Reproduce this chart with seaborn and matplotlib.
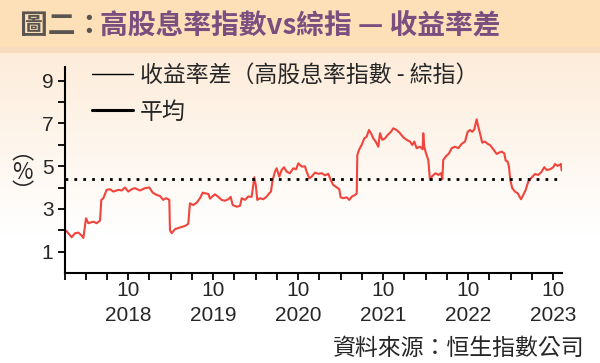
import numpy as np
import pandas as pd
import seaborn as sns
import matplotlib.pyplot as plt
from matplotlib.lines import Line2D

# decimal year
years = [
    2018.018, 2018.045, 2018.084, 2018.124, 2018.163, 2018.202, 2018.222, 2018.253, 2018.280, 2018.339,
    2018.379, 2018.418, 2018.433, 2018.457, 2018.496, 2018.535, 2018.574, 2018.633, 2018.673, 2018.712,
    2018.751, 2018.791, 2018.829, 2018.888, 2018.947, 2018.998, 2019.038, 2019.085, 2019.124, 2019.162,
    2019.194, 2019.221, 2019.233, 2019.241, 2019.261, 2019.300, 2019.359, 2019.418, 2019.456, 2019.476,
    2019.515, 2019.555, 2019.594, 2019.626, 2019.653, 2019.692, 2019.712, 2019.744, 2019.771, 2019.810,
    2019.849, 2019.888, 2019.927, 2019.955, 2019.979, 2020.026, 2020.065, 2020.085, 2020.124, 2020.162,
    2020.202, 2020.233, 2020.251, 2020.268, 2020.300, 2020.339, 2020.379, 2020.409, 2020.429, 2020.449,
    2020.476, 2020.496, 2020.527, 2020.555, 2020.582, 2020.614, 2020.653, 2020.692, 2020.724, 2020.751,
    2020.791, 2020.829, 2020.849, 2020.880, 2020.908, 2020.947, 2020.986, 2021.026, 2021.065, 2021.104,
    2021.132, 2021.162, 2021.202, 2021.233, 2021.249, 2021.280, 2021.320, 2021.351, 2021.379, 2021.418,
    2021.438, 2021.445, 2021.465, 2021.496, 2021.527, 2021.555, 2021.582, 2021.606, 2021.633, 2021.661,
    2021.692, 2021.712, 2021.739, 2021.771, 2021.802, 2021.841, 2021.868, 2021.908, 2021.947, 2021.986,
    2022.026, 2022.065, 2022.092, 2022.115, 2022.143, 2022.182, 2022.214, 2022.221, 2022.233, 2022.253,
    2022.280, 2022.300, 2022.327, 2022.367, 2022.398, 2022.429, 2022.445, 2022.456, 2022.484, 2022.524,
    2022.555, 2022.594, 2022.633, 2022.673, 2022.712, 2022.744, 2022.771, 2022.798, 2022.821, 2022.849,
    2022.868, 2022.888, 2022.915, 2022.947, 2022.979, 2023.006, 2023.045, 2023.085, 2023.112, 2023.143,
    2023.174, 2023.191, 2023.214, 2023.229, 2023.245, 2023.268, 2023.300, 2023.332, 2023.371, 2023.398,
    2023.426, 2023.456, 2023.488, 2023.535, 2023.574, 2023.606, 2023.645, 2023.673, 2023.712, 2023.751,
    2023.771, 2023.802, 2023.841, 2023.849,
]
spread = [
    1.98, 1.86, 1.67, 1.86, 1.89, 1.75, 1.64, 2.56, 2.33, 2.40,
    2.33, 2.45, 3.42, 3.50, 3.89, 3.92, 3.81, 3.89, 3.86, 4.00,
    3.81, 3.92, 3.97, 3.86, 3.97, 4.00, 3.76, 3.65, 3.60, 3.42,
    3.50, 3.45, 3.42, 2.00, 1.86, 2.05, 2.13, 2.20, 2.30, 3.26,
    3.18, 3.29, 3.50, 3.76, 3.73, 3.70, 3.48, 3.60, 3.68, 3.56,
    3.42, 3.38, 3.45, 3.56, 3.18, 3.10, 3.14, 3.50, 3.42, 3.58,
    3.56, 4.48, 4.10, 3.42, 3.50, 3.45, 3.58, 3.73, 3.81, 4.35,
    4.74, 4.90, 4.51, 4.82, 4.95, 4.74, 4.67, 4.90, 4.85, 5.13,
    4.98, 4.99, 4.74, 4.43, 4.51, 4.70, 4.64, 4.67, 4.57, 4.64,
    4.35, 4.12, 4.01, 3.92, 3.54, 3.50, 3.54, 3.42, 3.57, 3.65,
    3.73, 5.52, 5.76, 5.99, 6.30, 6.38, 6.69, 6.54, 6.30, 6.15,
    5.91, 6.54, 6.23, 6.30, 6.46, 6.61, 6.77, 6.69, 6.54, 6.35,
    6.23, 6.15, 5.99, 6.15, 5.84, 5.91, 5.79, 6.54, 5.91, 5.60,
    5.29, 4.35, 4.54, 4.67, 4.59, 4.67, 4.39, 5.29, 5.44, 5.60,
    5.84, 5.91, 5.84, 6.04, 6.15, 6.61, 6.69, 6.61, 6.72, 7.19,
    6.85, 6.54, 6.10, 6.15, 6.04, 5.99, 5.79, 5.57, 5.63, 5.68,
    5.60, 5.26, 5.21, 4.98, 4.35, 3.97, 3.81, 3.73, 3.45, 3.65,
    3.89, 4.27, 4.43, 4.63, 4.59, 4.70, 4.95, 4.82, 4.85, 4.95,
    5.10, 5.01, 5.10, 4.80,
]
mean_value = 4.39
tick_years = [2018, 2019, 2020, 2021, 2022, 2023]
y_ticks = [1, 3, 5, 7, 9]

df = pd.DataFrame({"year": years, "spread": spread})

sns.set_style("ticks")
plt.rcParams["font.family"] = ["Liberation Sans", "Noto Sans CJK TC", "DejaVu Sans"]
cjk = ["Noto Sans CJK TC"]

fig = plt.figure(figsize=(6, 3.63), dpi=100)

# background: title bar + soft gradient
bg = fig.add_axes([0, 0, 1, 1], zorder=0)
bg.set_xlim(0, 600)
bg.set_ylim(363, 0)
bg.axis("off")
top = np.array([253, 236, 218]) / 255
bot = np.array([255, 255, 255]) / 255
grad = np.linspace(0, 1, 100)[:, None, None]
img = top * (1 - grad) + bot * grad
img = np.repeat(img, 2, axis=1)
bg.imshow(img, extent=[0, 600, 236, 52], aspect="auto")
bg.add_patch(plt.Rectangle((0, 47), 600, 6, color="#f9dcc0", lw=0))
bg.add_patch(plt.Rectangle((0, 0), 600, 47, color="#fde0b8", lw=0))
bg.text(20, 26, "圖二：", fontsize=20, color="#5a5550", va="center",
        family=cjk, fontweight="bold")
bg.text(100, 26, "高股息率指數vs綜指 — 收益率差", fontsize=20, color="#7b4e80",
        va="center", family=cjk, fontweight="bold")

ax = fig.add_axes([0.1075, 0.248, 0.8287, 0.568], zorder=1)
ax.patch.set_alpha(0)
sns.lineplot(data=df, x="year", y="spread", ax=ax, color="#f0443c", lw=1.5)
ax.axhline(mean_value, color="black", ls=(0, (1, 2.2)), lw=2)

ax.set_xlim(2018.0, 2023.85)
ax.set_ylim(0, 9.65)
ax.set_xlabel("")
ax.set_ylabel("")
ax.set_yticks(y_ticks)
ax.set_yticks([2, 4, 6, 8], minor=True)
ax.set_yticklabels([str(v) for v in y_ticks], fontsize=15)
ax.set_xticks([y + 0.75 for y in tick_years])
ax.set_xticklabels([f"10\n{y}" for y in tick_years], fontsize=15, linespacing=1.4)
ax.set_xticks([2018 + q * 0.25 for q in range(24) if q % 4 != 3], minor=True)
ax.tick_params(axis="both", which="both", direction="out", length=5, width=1.3, color="black")
ax.tick_params(axis="y", pad=3)
ax.tick_params(axis="x", pad=1)
sns.despine(ax=ax)
for s in ["left", "bottom"]:
    ax.spines[s].set_linewidth(1.5)
    ax.spines[s].set_color("black")

handles = [Line2D([], [], color="black", lw=1.0), Line2D([], [], color="black", lw=2.2)]
labels = ["收益率差（高股息率指數 - 綜指）", "平均"]
ax.legend(handles, labels, loc="upper left", bbox_to_anchor=(0.013, 1.115),
          frameon=False, handlelength=1.8, handletextpad=0.3,
          labelspacing=0.6, prop={"family": cjk, "size": 16.5})

fig.text(0.037, 0.526, "︵\n%\n︶", fontsize=16, ha="center", va="center",
         family=cjk, linespacing=0.85)
fig.text(0.975, 0.04, "資料來源：恒生指數公司", fontsize=16.5, ha="right", va="center",
         family=cjk)

fig.savefig("out.png", dpi=100)
